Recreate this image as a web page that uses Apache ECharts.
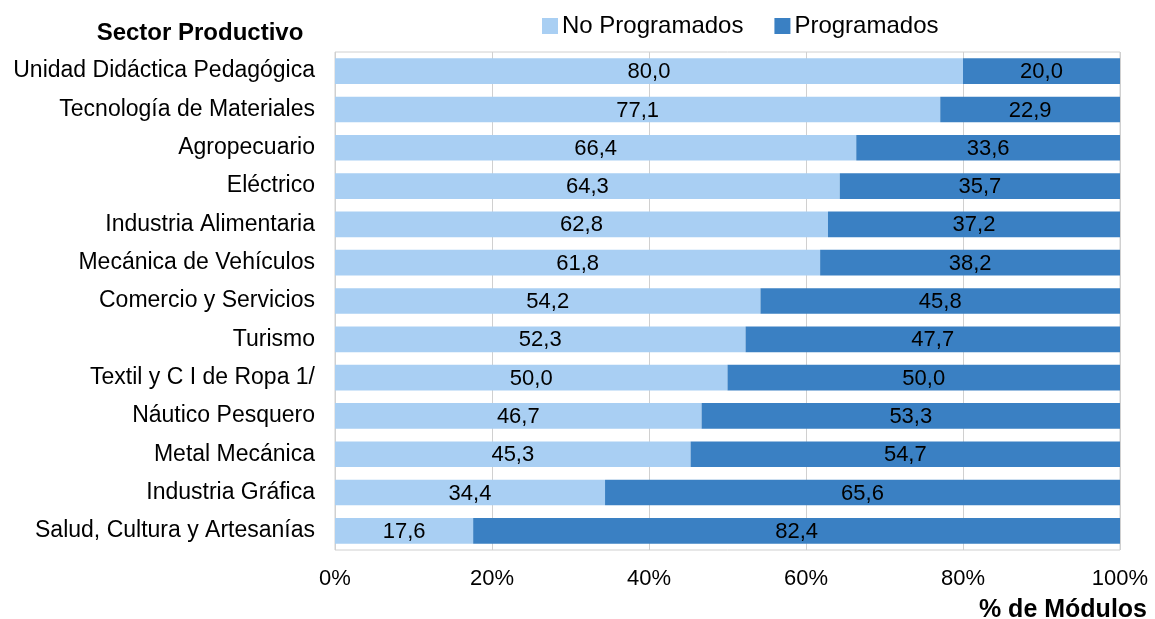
<!DOCTYPE html>
<html><head><meta charset="utf-8">
<script src="https://cdn.jsdelivr.net/npm/echarts@6/dist/echarts.min.js"></script>
<style>html,body{margin:0;padding:0;background:#fff}#c{width:1155px;height:619px}</style>
</head><body><div id="c"></div>
<script>
const categories = ["Unidad Didáctica Pedagógica","Tecnología de Materiales","Agropecuario","Eléctrico","Industria Alimentaria","Mecánica de Vehículos","Comercio y Servicios","Turismo","Textil y C I de Ropa 1/","Náutico Pesquero","Metal Mecánica","Industria Gráfica","Salud, Cultura y Artesanías"];
const noProgramados = [80.0,77.1,66.4,64.3,62.8,61.8,54.2,52.3,50.0,46.7,45.3,34.4,17.6];
const programados = [20.0,22.9,33.6,35.7,37.2,38.2,45.8,47.7,50.0,53.3,54.7,65.6,82.4];
const seriesNames = ["No Programados","Programados"];

const chart = echarts.init(document.getElementById('c'), null, {renderer:'canvas'});
const fam = '"Liberation Sans", Arial, sans-serif';
const lbl = {show:true, position:'inside', offset:[0,1], color:'#000', fontSize:22, fontFamily:fam, formatter:p=>p.value.toFixed(1).replace('.',',')};
chart.setOption({
  animation:false,
  textStyle:{fontFamily:fam},
  grid:{left:335, right:35, top:52, bottom:69, show:true, borderColor:'#d0d0d0', borderWidth:1},
  title:[
    {text:'Sector Productivo', left:195, top:16, textAlign:'center', textStyle:{fontSize:24, fontWeight:'bold', color:'#000', fontFamily:fam}},
    {text:'% de Módulos', right:3, top:593, textStyle:{fontSize:25, fontWeight:'bold', color:'#000', fontFamily:fam}}
  ],
  legend:{top:9, left:537, itemWidth:16, itemHeight:16, itemGap:31, icon:'rect',
    textStyle:{fontSize:24, color:'#000', fontFamily:fam, padding:[0,0,0,-1]}, data:seriesNames},
  xAxis:{type:'value', min:0, max:100, interval:20,
    axisLabel:{formatter:v=>v+'%', fontSize:22, color:'#000', margin:18, fontFamily:fam},
    splitLine:{lineStyle:{color:'#d0d0d0'}}, axisLine:{show:false}, axisTick:{show:false}},
  yAxis:{type:'category', inverse:true, data:categories,
    axisLabel:{fontSize:23, color:'#000', margin:20, fontFamily:fam, padding:[4,0,0,0]},
    axisLine:{show:false}, axisTick:{show:false}},
  series:[
    {name:seriesNames[0], type:'bar', stack:'a', data:noProgramados, barCategoryGap:'33%', itemStyle:{color:'#a9cff3'}, label:lbl},
    {name:seriesNames[1], type:'bar', stack:'a', data:programados, itemStyle:{color:'#3a80c3'}, label:lbl}
  ]
});
</script></body></html>
